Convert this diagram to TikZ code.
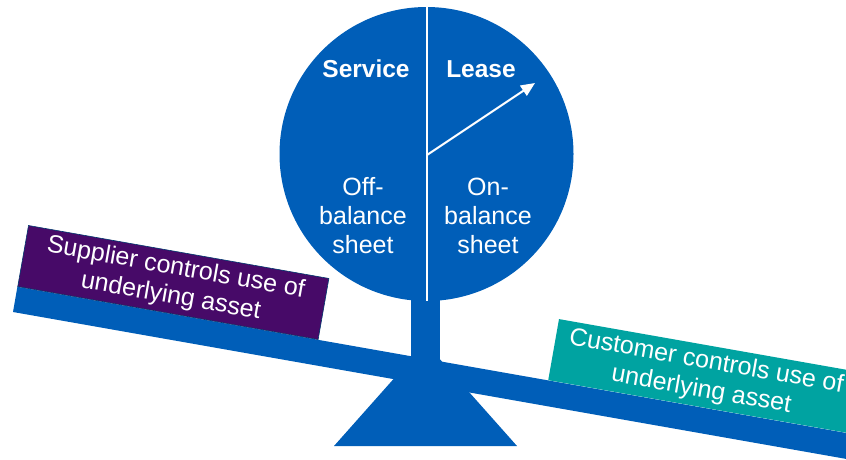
\documentclass[tikz,border=0pt]{standalone}
\usepackage{fontspec}
\setmainfont{Liberation Sans}
\usetikzlibrary{arrows.meta}
\definecolor{kblue}{RGB}{0,94,184}
\definecolor{kpurple}{RGB}{71,10,104}
\definecolor{kteal}{RGB}{0,163,161}
\begin{document}
\begin{tikzpicture}[x=1pt,y=-1pt,
  lbl/.style={text=white, font=\fontsize{25}{29}\selectfont, align=center, inner sep=0pt},
  ttl/.style={text=white, font=\fontsize{24.5}{29}\selectfont\bfseries, inner sep=0pt},
  tag/.style={minimum width=305pt, minimum height=62pt, inner sep=0pt, rotate=-10,
              anchor=south west, text=white, align=center, font=\fontsize{25}{29}\selectfont},
  part/.style={fill=kblue}]
\useasboundingbox (0,0) rectangle (846,459);
\clip (0,0) rectangle (846,459);
% fulcrum and stem
\fill[part] (334,446) -- (425.5,343) -- (517,446) -- cycle;
\fill[part] (411,290) rectangle (440,380);
% dial
\node[circle, fill=kblue, minimum size=294pt, inner sep=0pt] (dial) at (426.5,154) {};
\draw[white, line width=2pt] (dial.north) -- (dial.south);
\coordinate (piv) at (427,155);
\coordinate (tip) at (535,83);
\draw[white, line width=2pt, -{Triangle[length=14pt,width=12pt]}] (piv) -- (tip);
\node[ttl] (svc) at (366,69) {Service};
\node[ttl] (lse) at (481,69) {Lease};
\node[lbl] (off) at (363,216) {Off-\\balance\\sheet};
\node[lbl] (on) at (488,216) {On-\\balance\\sheet};
% beam
\fill[part] (13,312) -- (879.6,464.8) -- (884,439.6) -- (17.4,286.8) -- cycle;
% labels on the beam
\node[tag, fill=kpurple, draw=kblue!60!black, line width=0.6pt] (sup) at (17.4,286.8) {Supplier controls use of\\underlying asset};
\node[tag, fill=kteal] (cus) at (548,380.3) {Customer controls use of\\underlying asset};
\end{tikzpicture}
\end{document}
